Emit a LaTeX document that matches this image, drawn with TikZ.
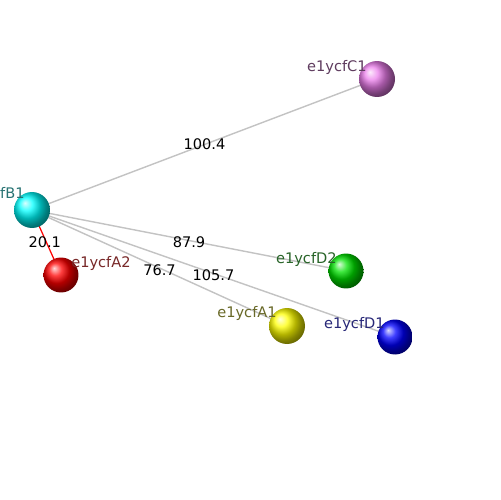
\documentclass[tikz,border=0pt]{standalone}
\usepackage{fontspec}
\setmainfont{DejaVu Sans}
\usepackage{xcolor}
\usepackage{tikz}
\usetikzlibrary{positioning, calc, shadings}
\definecolor{violetball}{RGB}{235,125,235}
\definecolor{greenball}{RGB}{0,225,0}
\definecolor{edgegray}{RGB}{195,195,195}
\definecolor{tagB}{RGB}{40,115,115}
\definecolor{tagC}{RGB}{95,60,95}
\definecolor{tagDtwo}{RGB}{40,100,40}
\definecolor{tagAone}{RGB}{105,105,40}
\definecolor{tagDone}{RGB}{40,40,120}
\definecolor{tagAtwo}{RGB}{120,40,40}
\tikzset{
  atom/.style={circle, inner sep=0pt, minimum size=#1, shading=ball},
  atom/.default=7mm,
  tag/.style={font=\fontsize{8.3}{10}\selectfont, inner sep=0pt},
  dist/.style={font=\fontsize{8.3}{10}\selectfont, text=black, inner sep=1pt},
  bond/.style={draw=edgegray, line width=0.8pt},
  redbond/.style={draw=red, line width=0.7pt},
}
\begin{document}
\begin{tikzpicture}[x=0.02cm, y=-0.02cm]
\clip (0,0) rectangle (500,500);
\useasboundingbox (0,0) rectangle (500,500);
\fill[white] (0,0) rectangle (500,500);
% edges first, spheres on top
\coordinate (pB1) at (32,210);
\coordinate (pA2) at (61,275);
\coordinate (pC1) at (377,79);
\coordinate (pD2) at (346,271);
\coordinate (pA1) at (287,326);
\coordinate (pD1) at (395,337);
\draw[bond] (pB1) -- node[dist, midway] {100.4} (pC1);
\draw[bond] (pB1) -- node[dist, midway, yshift=-1pt] {87.9} (pD2);
\draw[bond] (pB1) -- node[dist, midway, yshift=-1pt] {105.7} (pD1);
\draw[bond] (pB1) -- node[dist, midway, yshift=-1pt] {76.7} (pA1);
\draw[redbond] (pB1) -- node[dist, midway, xshift=-1pt] {20.1} (pA2);
% spheres
\node[atom=7.2mm, ball color=cyan] (B1) at (pB1) {};
\node[atom=7mm, ball color=red] (A2) at (pA2) {};
\node[atom=7.2mm, ball color=violetball] (C1) at (pC1) {};
\node[atom=7mm, ball color=greenball] (D2) at (pD2) {};
\node[atom=7.2mm, ball color=yellow] (A1) at (pA1) {};
\node[atom=7mm, ball color=blue] (D1) at (pD1) {};
% names
\node[tag, text=tagB, anchor=east] at ($(B1)+(-7,-16)$) {e1ycfB1};
\node[tag, text=tagC, anchor=east] at ($(C1)+(-10,-12)$) {e1ycfC1};
\node[tag, text=tagDtwo, anchor=east] at ($(D2)+(-9,-12)$) {e1ycfD2};
\node[tag, text=tagAone, anchor=east] at ($(A1)+(-10,-13)$) {e1ycfA1};
\node[tag, text=tagDone, anchor=east] at ($(D1)+(-10,-13)$) {e1ycfD1};
\node[tag, text=tagAtwo, anchor=west] at ($(A2)+(10,-12)$) {e1ycfA2};
\end{tikzpicture}
\end{document}
